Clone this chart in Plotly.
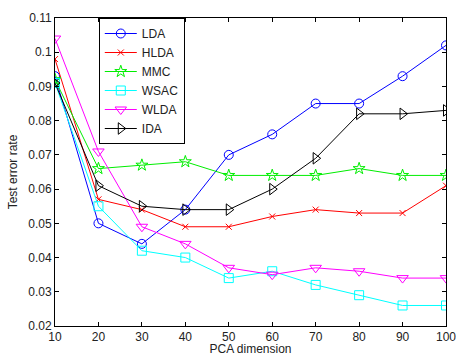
import plotly.graph_objects as go

dims = [10, 20, 30, 40, 50, 60, 70, 80, 90, 100]
lda = [0.093, 0.050, 0.044, 0.054, 0.070, 0.076, 0.085, 0.085, 0.093, 0.102]
hlda = [0.098, 0.057, 0.054, 0.049, 0.049, 0.052, 0.054, 0.053, 0.053, 0.061]
mmc = [0.092, 0.066, 0.067, 0.068, 0.064, 0.064, 0.064, 0.066, 0.064, 0.064]
wsac = [0.091, 0.055, 0.042, 0.040, 0.034, 0.036, 0.032, 0.029, 0.026, 0.026]
wlda = [0.104, 0.071, 0.049, 0.044, 0.037, 0.035, 0.037, 0.036, 0.034, 0.034]
ida = [0.091, 0.061, 0.055, 0.054, 0.054, 0.060, 0.069, 0.082, 0.082, 0.083]

series = [
    ("LDA", lda, "#0000ff", "circle-open", 9),
    ("HLDA", hlda, "#ff0000", "x-thin-open", 6),
    ("MMC", mmc, "#00ee00", "star-open", 9),
    ("WSAC", wsac, "#00ffff", "square-open", 9),
    ("WLDA", wlda, "#ff00ff", "triangle-down-open", 10),
    ("IDA", ida, "#000000", "triangle-right-open", 10),
]

fig = go.Figure()
for name, vals, col, sym, sz in series:
    fig.add_trace(go.Scatter(
        x=dims, y=vals, name=name, mode="lines+markers",
        line=dict(color=col, width=1),
        marker=dict(symbol=sym, size=sz, color=col, line=dict(color=col, width=1)),
    ))

font = dict(family="Liberation Sans, Arial", size=12, color="#222")
axis_common = dict(
    showline=True, linecolor="black", linewidth=1, mirror="ticks",
    ticks="inside", ticklen=4, tickcolor="black", showgrid=False, zeroline=False,
    tickfont=font, automargin=False, ticklabeloverflow="allow",
)
fig.update_xaxes(range=[10, 100], tickvals=dims,
                 title=dict(text="PCA dimension", font=font, standoff=8),
                 **axis_common)
fig.update_yaxes(range=[0.02, 0.11], dtick=0.01, tick0=0.02,
                 title=dict(text="Test error rate", font=font, standoff=8),
                 **axis_common)

fig.update_layout(
    width=456, height=356,
    margin=dict(l=55, r=10, t=18, b=30),
    paper_bgcolor="white", plot_bgcolor="white",
    legend=dict(x=0.112, y=1, xanchor="left", yanchor="top",
                bgcolor="white", bordercolor="black", borderwidth=1,
                font=dict(family="Liberation Sans, Arial", size=12, color="#222"),
                tracegroupgap=0, itemwidth=32),
    showlegend=True,
)
# remove the page's default 8px body margin so the figure fills the window
fig.write_html("out.html", config={"displayModeBar": False},
               post_script="document.body.style.margin='0px';")
